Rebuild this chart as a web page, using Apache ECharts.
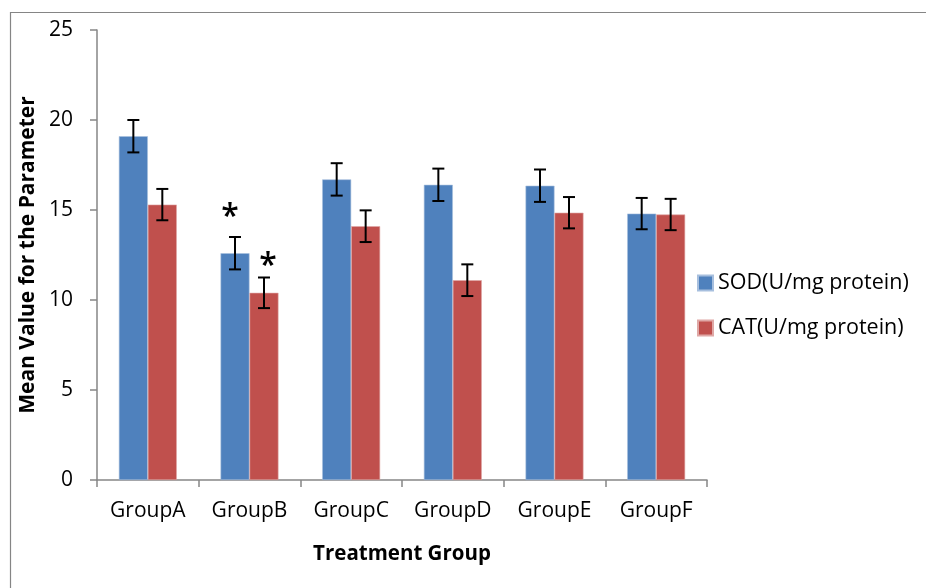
<!DOCTYPE html>
<html>
<head>
<meta charset="utf-8">
<script src="https://cdn.jsdelivr.net/npm/echarts@6/dist/echarts.min.js"></script>
<style>html,body{margin:0;padding:0;background:#fff}#c{width:926px;height:588px}</style>
</head>
<body>
<div id="c"></div>
<script>
var categories = ['GroupA', 'GroupB', 'GroupC', 'GroupD', 'GroupE', 'GroupF'];
var sodValues = [19.1, 12.6, 16.7, 16.4, 16.35, 14.8];
var sodErrors = [0.9, 0.9, 0.9, 0.9, 0.9, 0.87];
var catValues = [15.3, 10.4, 14.1, 11.1, 14.85, 14.75];
var catErrors = [0.87, 0.85, 0.88, 0.88, 0.87, 0.87];
var sodMarks = ['', '*', '', '', '', ''];
var catMarks = ['', '*', '', '', '', ''];
var yTicks = [0, 5, 10, 15, 20, 25];

var FONT = '"Open Sans", "Noto Sans", sans-serif';
var CAT_GAP = 0.43;

function errData(vals, errs, marks) {
  return vals.map(function (v, i) { return [i, v - errs[i], v + errs[i], marks[i]]; });
}

function errorRender(side, markDx, markDy) {
  return function (params, api) {
    var catW = api.size([1, 0])[0];
    var barW = catW * (1 - CAT_GAP) / 2;
    var lo = api.coord([api.value(0), api.value(1)]);
    var hi = api.coord([api.value(0), api.value(2)]);
    var x = lo[0] + side * barW / 2;
    var cap = 6;
    var st = { stroke: '#000', lineWidth: 2 };
    var children = [
      { type: 'line', shape: { x1: x, y1: lo[1], x2: x, y2: hi[1] }, style: st },
      { type: 'line', shape: { x1: x - cap, y1: lo[1], x2: x + cap, y2: lo[1] }, style: st },
      { type: 'line', shape: { x1: x - cap, y1: hi[1], x2: x + cap, y2: hi[1] }, style: st }
    ];
    var m = api.value(3);
    if (m && m !== '-' ) {
      children.push({
        type: 'text',
        style: {
          text: m, x: x + markDx, y: hi[1] - markDy,
          fill: '#000', font: '600 32px ' + FONT,
          textAlign: 'center', textVerticalAlign: 'middle'
        }
      });
    }
    return { type: 'group', children: children };
  };
}

var chart = echarts.init(document.getElementById('c'), null, { renderer: 'canvas' });
chart.setOption({
  animation: false,
  backgroundColor: '#fff',
  textStyle: { fontFamily: FONT },
  graphic: [{
    type: 'rect', shape: { x: 10.5, y: 12.5, width: 2000, height: 2000 },
    style: { fill: 'none', stroke: '#858585', lineWidth: 1.2 }, silent: true, z: -10
  }],
  grid: { left: 97, right: 219, top: 30, bottom: 108, containLabel: false },
  legend: {
    orient: 'vertical', left: 697, top: 272, padding: 0,
    itemWidth: 15, itemHeight: 15, itemGap: 23,
    icon: 'rect',
    textStyle: { fontFamily: FONT, fontSize: 21.5, color: '#000', lineHeight: 22 },
    data: ['SOD(U/mg protein)', 'CAT(U/mg protein)']
  },
  xAxis: {
    type: 'category', data: categories,
    name: 'Treatment Group', nameLocation: 'middle', nameGap: 64,
    nameTextStyle: { fontFamily: FONT, fontSize: 20.5, fontWeight: 'bold', color: '#000' },
    axisLine: { lineStyle: { color: '#868686', width: 1.5 } },
    axisTick: { show: true, length: 7, interval: 0, lineStyle: { color: '#868686', width: 1.5 } },
    axisLabel: { fontFamily: FONT, fontSize: 21, color: '#000', margin: 21, interval: 0, hideOverlap: false },
    splitLine: { show: false }
  },
  yAxis: {
    type: 'value', min: 0, max: 25, interval: 5,
    name: 'Mean Value for the Parameter', nameLocation: 'middle', nameGap: 46, nameRotate: 90,
    nameTextStyle: { fontFamily: FONT, fontSize: 21, fontWeight: 'bold', color: '#000' },
    axisLine: { show: true, lineStyle: { color: '#868686', width: 1.5 } },
    axisTick: { show: true, length: 7, lineStyle: { color: '#868686', width: 1.5 } },
    axisLabel: {
      fontFamily: FONT, fontSize: 21, color: '#000', margin: 24,
      formatter: function (v) { return yTicks.indexOf(v) >= 0 ? String(v) : ''; }
    },
    splitLine: { show: false }
  },
  series: [
    {
      name: 'SOD(U/mg protein)', type: 'bar', data: sodValues,
      barGap: '0%', barCategoryGap: '43%',
      itemStyle: { color: '#4F81BD', borderColor: '#A7BFDE', borderWidth: 0.6 }
    },
    {
      name: 'CAT(U/mg protein)', type: 'bar', data: catValues,
      barGap: '0%', barCategoryGap: '43%',
      itemStyle: { color: '#C0504D', borderColor: '#DFA8A6', borderWidth: 0.6 }
    },
    {
      type: 'custom', name: 'sodErr', data: errData(sodValues, sodErrors, sodMarks),
      renderItem: errorRender(-1, -5, 19), z: 10, silent: true
    },
    {
      type: 'custom', name: 'catErr', data: errData(catValues, catErrors, catMarks),
      renderItem: errorRender(1, 4, 11), z: 10, silent: true
    }
  ]
});
</script>
</body>
</html>
